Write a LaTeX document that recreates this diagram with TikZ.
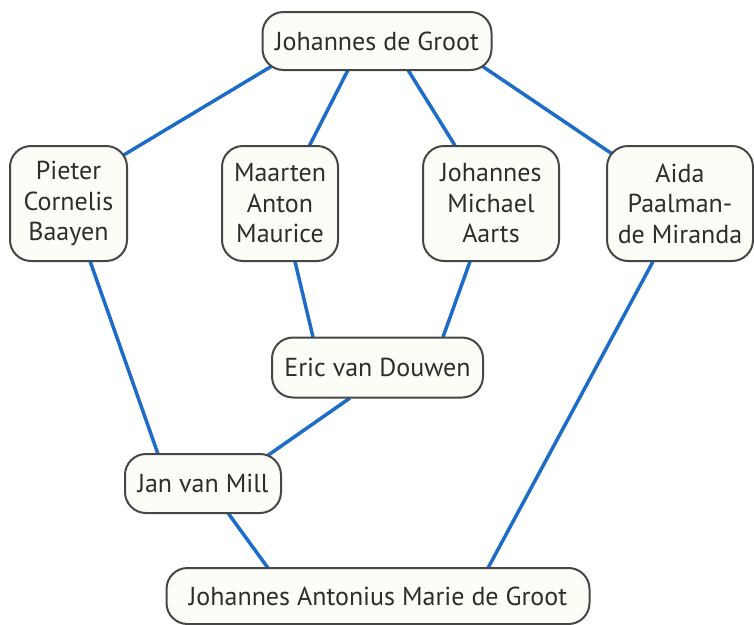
\documentclass[tikz,border=0pt]{standalone}
\usepackage{fontspec}
\setmainfont{PT Sans}
\usetikzlibrary{calc,backgrounds}
\definecolor{edgeblue}{RGB}{28,108,200}
\definecolor{nodefill}{RGB}{253,253,247}
\definecolor{nodeline}{RGB}{70,70,70}
\definecolor{nodetext}{RGB}{45,45,45}
\tikzset{
  person/.style={draw=nodeline, line width=2pt, fill=nodefill, rounded corners=21pt,
    align=center, inner sep=0pt, text=nodetext, font=\fontsize{26}{30.5}\selectfont},
  link/.style={draw=edgeblue, line width=3.5pt},
}
\begin{document}
\begin{tikzpicture}[x=1pt,y=1pt]
\useasboundingbox (0,0) rectangle (754,-624);
\node[person, minimum width=229pt, minimum height=58pt] (top) at (377,-41) {Johannes de Groot};
\node[person, minimum width=117pt, minimum height=115pt] (pcb) at (68.5,-203.5) {Pieter\\Cornelis\\Baayen};
\node[person, minimum width=116pt, minimum height=115pt] (mam) at (280,-203.5) {Maarten\\Anton\\Maurice};
\node[person, minimum width=136pt, minimum height=115pt] (jma) at (491,-203.5) {Johannes\\Michael\\Aarts};
\node[person, minimum width=146pt, minimum height=115pt] (apm) at (680,-203.5) {Aida\\Paalman-\\de Miranda};
\node[person, minimum width=211pt, minimum height=60pt] (evd) at (377.5,-367.5) {Eric van Douwen};
\node[person, minimum width=156pt, minimum height=59pt] (jvm) at (203,-483.5) {Jan van Mill};
\node[person, minimum width=423pt, minimum height=56pt] (jamg) at (378,-596) {Johannes Antonius Marie de Groot};
\begin{pgfonlayer}{background}
\draw[link] ($(top)+(-105,-25)$) -- ($(pcb)+(53.5,47.5)$);
\draw[link] ($(top)+(-29,-29)$) -- ($(mam)+(29,57)$);
\draw[link] ($(top)+(31,-29)$) -- ($(jma)+(-36,58)$);
\draw[link] ($(top)+(102,-23)$) -- ($(apm)+(-67,49)$);
\draw[link] ($(pcb)+(21.5,-57.5)$) -- ($(jvm)+(-45,29.5)$);
\draw[link] ($(mam)+(15,-58)$) -- ($(evd)+(-64.5,30.5)$);
\draw[link] ($(jma)+(-21,-58)$) -- ($(evd)+(65.5,30.5)$);
\draw[link] ($(evd)+(-27.5,-30.5)$) -- ($(jvm)+(64,27.5)$);
\draw[link] ($(jvm)+(25,-29.5)$) -- ($(jamg)+(-110,28)$);
\draw[link] ($(apm)+(-27,-58)$) -- ($(jamg)+(110,28)$);
\end{pgfonlayer}
\end{tikzpicture}
\end{document}
